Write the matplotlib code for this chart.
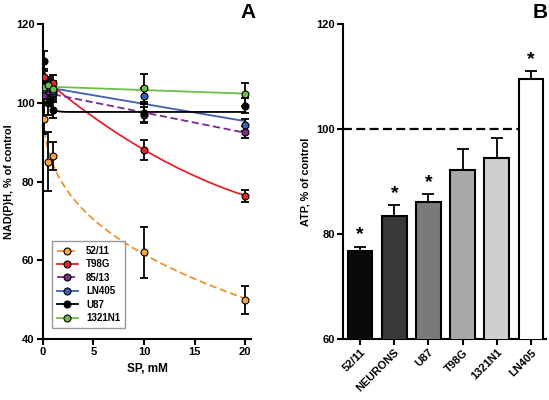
import numpy as np
import matplotlib
matplotlib.use('Agg')
import matplotlib.pyplot as plt

plt.rcParams['font.family'] = ['Liberation Sans', 'DejaVu Sans']
plt.rcParams['font.weight'] = 'bold'

# Panel A: NAD(P)H vs SP concentration
SP_MM = [0.1, 0.5, 1, 10, 20]
LINES = ['52/11', 'T98G', '85/13', 'LN405', 'U87', '1321N1']
NADPH = {
    '52/11': [96.0, 85.0, 86.5, 62.0, 49.9],
    'T98G': [106.5, 104.0, 105.0, 88.0, 76.4],
    '85/13': [102.0, 103.0, 102.5, 97.0, 92.6],
    'LN405': [103.5, 104.0, 103.0, 101.8, 94.3],
    'U87': [110.6, 100.0, 98.2, 97.3, 99.3],
    '1321N1': [104.0, 104.5, 103.5, 103.7, 102.1],
}
NADPH_ERR = {
    '52/11': [4.0, 7.5, 3.5, 6.5, 3.5],
    'T98G': [2.0, 2.0, 2.0, 2.5, 1.5],
    '85/13': [2.0, 2.0, 2.0, 2.0, 1.5],
    'LN405': [2.0, 2.0, 2.0, 2.0, 1.5],
    'U87': [2.5, 3.0, 2.0, 2.5, 2.0],
    '1321N1': [2.0, 2.0, 2.0, 3.5, 3.0],
}
# fit model per cell line: 'lin', 'quad', 'exp' or 'pow'
FIT_KIND = {'52/11': 'pow', 'T98G': 'quad', '85/13': 'lin',
            'LN405': 'lin', 'U87': 'exp', '1321N1': 'lin'}

# Panel B: ATP levels
CELLS = ['52/11', 'NEURONS', 'U87', 'T98G', '1321N1', 'LN405']
ATP = [76.8, 83.5, 86.1, 92.2, 94.4, 109.5]
ATP_ERR = [0.8, 2.0, 1.5, 4.0, 3.9, 1.5]
SIGNIF = [True, True, True, False, False, True]

COLORS = {'52/11': '#f2a544', 'T98G': '#e3242b', '85/13': '#7a2a8c',
          'LN405': '#3f5fb0', 'U87': '#000000', '1321N1': '#6cc04a'}
LINE_COLORS = {'52/11': '#ea9435', 'T98G': '#e3242b', '85/13': '#7a2a8c',
               'LN405': '#3f5fb0', 'U87': '#000000', '1321N1': '#6cc04a'}
DASHED = {'52/11', '85/13'}
BAR_COLORS = ['#0a0a0a', '#383838', '#7a7a7a', '#a8a8a8', '#cfcfcf', '#ffffff']


def fit_curve(x, y, kind, xs):
    """Least squares fit of y = a + b*f(x), grid search on the shape parameter."""
    x = np.array(x)
    y = np.array(y)
    if kind == 'lin':
        return np.polyval(np.polyfit(x, y, 1), xs)
    if kind == 'quad':
        return np.polyval(np.polyfit(x, y, 2), xs)
    best = None
    for k in np.linspace(0.05, 3, 300):
        f = np.exp(-k * x) if kind == 'exp' else x ** (k / 3)
        fs = np.exp(-k * xs) if kind == 'exp' else xs ** (k / 3)
        b, a = np.polyfit(f, y, 1)
        err = np.sum((a + b * f - y) ** 2)
        if best is None or err < best[0]:
            best = (err, a + b * fs)
    return best[1]


def style_axes(ax):
    for side in ['top', 'right']:
        ax.spines[side].set_visible(False)
    for side in ['left', 'bottom']:
        ax.spines[side].set_linewidth(1.5)
    ax.tick_params(width=1.5, length=4, labelsize=8, pad=2)
    for lab in ax.get_xticklabels() + ax.get_yticklabels():
        lab.set_fontweight('bold')


fig = plt.figure(figsize=(5.49, 4.0), dpi=100)

# ---- Panel A ----
ax1 = fig.add_axes([0.078, 0.1525, 0.38, 0.7875])
xs = np.linspace(0.02, 20, 400)
for name in LINES:
    ys = fit_curve(SP_MM, NADPH[name], FIT_KIND[name], xs)
    ls = (0, (4, 2)) if name in DASHED else '-'
    ax1.plot(xs, ys, color=LINE_COLORS[name], lw=1.3, ls=ls, zorder=2)
for name in LINES:
    ax1.errorbar(SP_MM, NADPH[name], yerr=NADPH_ERR[name], fmt='none',
                 ecolor='black', elinewidth=1.3, capsize=3, capthick=1.3, zorder=3)
    ax1.plot(SP_MM, NADPH[name], 'o', color=COLORS[name], mec='black',
             mew=0.8, ms=5, zorder=4)
handles = []
for name in LINES:
    ls = (0, (4, 2)) if name in DASHED else '-'
    h, = ax1.plot([], [], marker='o', color=LINE_COLORS[name], mfc=COLORS[name],
                  mec='black', mew=0.8, ms=5, lw=1.3, ls=ls, label=name)
    handles.append(h)
leg = ax1.legend(handles=handles, loc='lower left', bbox_to_anchor=(0.02, 0.02),
                 prop={'weight': 'bold', 'size': 7}, frameon=True, fancybox=False,
                 handlelength=2.2, labelspacing=0.35, borderpad=0.5)
leg.get_frame().set_edgecolor('#808080')
leg.get_frame().set_linewidth(1.0)
ax1.set_xlim(0, 20.6)
ax1.set_ylim(40, 120)
ax1.set_xticks([0, 5, 10, 15, 20])
ax1.set_yticks([40, 60, 80, 100, 120])
ax1.set_xlabel('SP, mM', fontsize=8.5, fontweight='bold')
ax1.set_ylabel('NAD(P)H, % of control', fontsize=7.8, fontweight='bold', labelpad=1)
style_axes(ax1)
fig.text(0.466, 0.945, 'A', fontsize=15, fontweight='bold', ha='right', va='bottom')

# ---- Panel B ----
ax2 = fig.add_axes([0.625, 0.1525, 0.37, 0.7875])
pos = np.arange(len(CELLS))
ax2.bar(pos, ATP, width=0.72, bottom=0, color=BAR_COLORS, edgecolor='black',
        linewidth=1.5, zorder=3)
ax2.errorbar(pos, ATP, yerr=[np.zeros(len(ATP)), ATP_ERR], fmt='none',
             ecolor='black', elinewidth=1.3, capsize=4, capthick=1.3, zorder=2)
for p, v, e, s in zip(pos, ATP, ATP_ERR, SIGNIF):
    if s:
        ax2.text(p, v + e + 0.6, '*', ha='center', va='bottom', fontsize=14,
                 fontweight='bold')
ax2.plot([-0.5, pos[-1] - 0.36], [100, 100], color='black', lw=1.6,
         ls=(0, (4, 2)), zorder=1)
ax2.set_xlim(-0.5, 5.45)
ax2.set_ylim(60, 120)
ax2.set_yticks([60, 80, 100, 120])
ax2.set_xticks(pos)
ax2.set_xticklabels(CELLS, rotation=45, ha='right', rotation_mode='anchor')
ax2.set_ylabel('ATP, % of control', fontsize=7.8, fontweight='bold', labelpad=4)
style_axes(ax2)
fig.text(0.998, 0.945, 'B', fontsize=15, fontweight='bold', ha='right', va='bottom')

fig.savefig('out.png', dpi=100)
